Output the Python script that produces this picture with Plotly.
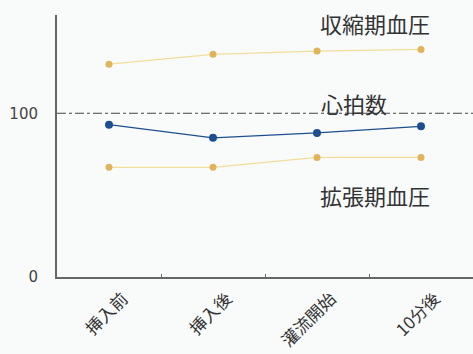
import plotly.graph_objects as go

# Time points of the measurement
categories = ["挿入前", "挿入後", "灌流開始", "10分後"]

# Measured values per time point
systolic = [130, 136, 138, 139]
heart_rate = [93, 85, 88, 92]
diastolic = [67, 67, 73, 73]

# Label for each series and its position (category index, value)
series_labels = ["収縮期血圧", "心拍数", "拡張期血圧"]
label_x = [2.56, 2.36, 2.56]
label_y = [155, 106, 50]

y_ticks = [0, 100]
ref_level = 100

gold = "#e2b45a"
gold_line = "#f1de9c"
blue = "#1d4f8f"
font_cjk = "Noto Sans CJK JP"

fig = go.Figure()

fig.add_trace(go.Scatter(
    x=categories, y=systolic, mode="lines+markers",
    line=dict(color=gold_line, width=1.2),
    marker=dict(color=gold, size=7), showlegend=False,
))
fig.add_trace(go.Scatter(
    x=categories, y=diastolic, mode="lines+markers",
    line=dict(color=gold_line, width=1.2),
    marker=dict(color=gold, size=7), showlegend=False,
))
fig.add_trace(go.Scatter(
    x=categories, y=heart_rate, mode="lines+markers",
    line=dict(color=blue, width=1.3),
    marker=dict(color=blue, size=8), showlegend=False,
))

# Reference line at 100
fig.add_shape(type="line", xref="paper", yref="y", x0=0, x1=1,
              y0=ref_level, y1=ref_level,
              line=dict(color="#444444", width=1.2, dash="dashdot"))

for text, x, y in zip(series_labels, label_x, label_y):
    fig.add_annotation(x=x, y=y, xref="x", yref="y", text=text,
                       showarrow=False, xanchor="center", yanchor="middle",
                       font=dict(family=font_cjk, size=22, color="#333333"))

fig.update_layout(
    width=473, height=354,
    margin=dict(l=57, r=0, t=15, b=77),
    paper_bgcolor="#f9fbfb", plot_bgcolor="#f9fbfb",
    xaxis=dict(
        range=[-0.5, 3.5], showgrid=False, zeroline=False, automargin=False,
        showline=True, linecolor="#666666", linewidth=2,
        ticks="inside", tickson="boundaries", ticklen=3, tickcolor="#666666",
        tickangle=-45, ticklabelshift=14, ticklabelstandoff=3,
        tickfont=dict(family=font_cjk, size=17, color="#333333"),
    ),
    yaxis=dict(
        range=[0, 160], showgrid=False, zeroline=False, automargin=False,
        showline=True, linecolor="#666666", linewidth=2,
        ticks="", tickvals=y_ticks, ticktext=[str(v) for v in y_ticks],
        ticklabelstandoff=14,
        tickfont=dict(family="DejaVu Sans", size=15, color="#444444"),
    ),
)

fig.write_html("out.html")
